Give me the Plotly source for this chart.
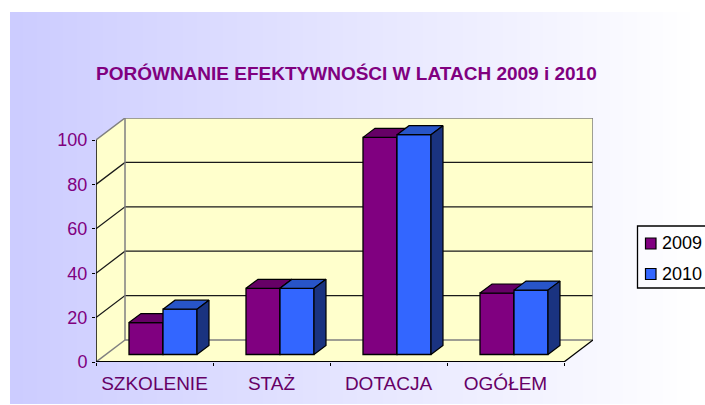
import plotly.graph_objects as go

categories = ["SZKOLENIE", "STAŻ", "DOTACJA", "OGÓŁEM"]
series_names = ["2009", "2010"]
values_2009 = [14.4, 29.8, 97.8, 27.7]
values_2010 = [20.4, 29.8, 99.0, 29.0]
y_ticks = [0, 20, 40, 60, 80, 100]

W, H = 705, 405
PX_X = 117.0      # pixels per category
PX_Y = 2.22       # pixels per value unit
DX, DY = 29 / PX_X, 22 / PX_Y          # wall depth in data units
BDX, BDY = 12 / PX_X, 9 / PX_Y         # bar depth in data units
BASE = 7.5 / PX_Y                      # bars stand inside the floor
BAR_W = 34 / PX_X
SHIFT = 8.5 / PX_X
XR = [0, 4 + DX]
YR = [0, 100 + DY]
L, R, B, T = 96, 593, 362, 118
PURPLE, BLUE = "#800080", "#3366ff"
TOP = {"2009": "#660066", "2010": "#2855c8"}
SIDE = {"2009": "#4d004d", "2010": "#1a3380"}
FRONT = {"2009": PURPLE, "2010": BLUE}
VALUES = {"2009": values_2009, "2010": values_2010}


def poly(x, y, fill, line="rgba(0,0,0,0)", lw=0, xa="x", ya="y"):
    return go.Scatter(x=x, y=y, mode="lines", fill="toself", fillcolor=fill,
                      line=dict(color=line, width=lw), xaxis=xa, yaxis=ya,
                      hoverinfo="skip", showlegend=False, cliponaxis=False)


def seg(x, y, color, lw):
    return go.Scatter(x=x, y=y, mode="lines", line=dict(color=color, width=lw),
                      hoverinfo="skip", showlegend=False, cliponaxis=False)


fig = go.Figure()
WALL = "#ffffcc"
GREY = "#808080"
fig.add_trace(poly([DX, 4 + DX, 4 + DX, DX, DX], [DY, DY, 100 + DY, 100 + DY, DY], WALL))
fig.add_trace(poly([0, DX, DX, 0, 0], [0, DY, 100 + DY, 100, 0], WALL))
fig.add_trace(poly([0, 4, 4 + DX, DX, 0], [0, 0, DY, DY, 0], WALL))
for v in y_ticks[1:-1]:
    fig.add_trace(seg([0, DX, 4 + DX], [v, v + DY, v + DY], "#1a1a1a", 1.3))
fig.add_trace(seg([0, DX, 4 + DX, 4 + DX], [100, 100 + DY, 100 + DY, DY], GREY, 1.5))
fig.add_trace(seg([DX, DX, 4 + DX], [100 + DY, DY, DY], GREY, 1.5))
fig.add_trace(seg([0, DX], [0, DY], GREY, 1.5))
fig.add_trace(seg([4, 4 + DX], [0, DY], "#000000", 1.3))
fig.add_trace(seg([0, 4], [0, 0], "#000000", 2))
fig.add_trace(seg([0, 0], [0, 100], "#000000", 1.5))

for k, name in enumerate(series_names):
    xa, ya = ("x2", "y2") if k == 0 else ("x3", "y3")
    vals = VALUES[name]
    off = SHIFT - BAR_W + k * BAR_W
    fig.add_trace(go.Bar(x=[i + 0.5 for i in range(4)], y=vals, base=BASE, width=BAR_W,
                         offset=off, name=name, marker=dict(color=FRONT[name],
                         line=dict(color="#000000", width=1.3)), xaxis=xa, yaxis=ya,
                         showlegend=False, cliponaxis=False,
                         text=categories, hovertemplate="%{text}: %{y}<extra>" + name + "</extra>",
                         textposition="none"))
    for i, v in enumerate(vals):
        x0 = i + 0.5 + off
        x1 = x0 + BAR_W
        t = BASE + v
        fig.add_trace(poly([x0, x1, x1 + BDX, x0 + BDX, x0], [t, t, t + BDY, t + BDY, t],
                           TOP[name], "#000000", 1.2, xa, ya))
        fig.add_trace(poly([x1, x1 + BDX, x1 + BDX, x1, x1],
                           [BASE, BASE + BDY, t + BDY, t, BASE],
                           SIDE[name], "#000000", 1.2, xa, ya))

dom_x = [L / W, R / W]
dom_y = [(H - B) / H, (H - T) / H]
hidden = dict(visible=False, range=XR, domain=dom_x, fixedrange=True, automargin=False)
shapes = []
x_start, x_end = 10, 690
for s in range(51):
    px = x_start + (x_end - x_start) * s / 51
    c = 204 + s
    shapes.append(dict(type="rect", xref="paper", yref="paper", layer="below",
                       x0=round(px) / W, x1=1, y0=(H - 404) / H, y1=(H - 12) / H,
                       fillcolor=f"rgb({c},{c},255)", line_width=0))
shapes.append(dict(type="rect", xref="paper", yref="paper", layer="below",
                   x0=x_end / W, x1=1, y0=(H - 404) / H, y1=(H - 12) / H,
                   fillcolor="#ffffff", line_width=0))
# legend
shapes.append(dict(type="rect", xref="paper", yref="paper", x0=637.5 / W, x1=712 / W,
                   y0=(H - 288) / H, y1=(H - 226) / H, fillcolor="rgba(255,255,255,0)",
                   line=dict(color="#000000", width=1.3)))
annotations = [dict(text="<b>PORÓWNANIE EFEKTYWNOŚCI W LATACH 2009 i 2010</b>", xref="paper", yref="paper",
                    x=346.5 / W, y=(H - 73.5) / H, showarrow=False, yanchor="middle",
                    font=dict(family="Liberation Sans", size=19, color=PURPLE))]
for k, (name, yc) in enumerate(zip(series_names, [243.5, 274])):
    shapes.append(dict(type="rect", xref="paper", yref="paper", x0=645.5 / W, x1=656 / W,
                       y0=(H - yc - 5.5) / H, y1=(H - yc + 5.5) / H, fillcolor=FRONT[name],
                       line=dict(color="#000000", width=1.2)))
    annotations.append(dict(text=name, xref="paper", yref="paper", x=661 / W, y=(H - yc) / H,
                            xanchor="left", yanchor="middle", showarrow=False, borderpad=0,
                            font=dict(family="Liberation Sans", size=18, color="#000000")))

fig.update_layout(
    width=W, height=H, autosize=False, margin=dict(l=0, r=0, t=0, b=0),
    paper_bgcolor="#ffffff", plot_bgcolor="rgba(0,0,0,0)", showlegend=False,
    barmode="overlay", shapes=shapes, annotations=annotations,
    font=dict(family="Liberation Sans"),
    xaxis=dict(range=XR, domain=dom_x, tickmode="array", tickvals=[0, 1, 2, 3, 4],
               ticktext=["", "", "", "", ""], ticks="outside", ticklen=3, tickwidth=1.3,
               tickcolor="#000000", showgrid=False, zeroline=False, showline=False, fixedrange=True,
               automargin=False),
    yaxis=dict(range=YR, domain=dom_y, tickmode="array", tickvals=y_ticks, ticks="outside",
               ticklen=3, tickwidth=1.3, tickcolor="#000000", showgrid=False, zeroline=False,
               showline=False, fixedrange=True, ticklabelstandoff=1, automargin=False,
               tickfont=dict(family="Liberation Sans", size=18, color=PURPLE)),
    xaxis2=dict(range=XR, domain=dom_x, overlaying="x", anchor="y2", tickmode="array",
                tickvals=[i + 0.5 for i in range(4)], ticktext=categories, ticks="",
                showgrid=False, zeroline=False, showline=False, fixedrange=True,
                ticklabelstandoff=8, tickangle=0, automargin=False,
                tickfont=dict(family="Liberation Sans", size=19, color="#660066")),
    yaxis2=dict(visible=False, range=YR, domain=dom_y, overlaying="y", anchor="x2", fixedrange=True,
                automargin=False),
    xaxis3=dict(hidden, overlaying="x", anchor="y3"),
    yaxis3=dict(visible=False, range=YR, domain=dom_y, overlaying="y", anchor="x3", fixedrange=True,
                automargin=False),
)
fig.write_html("out.html", config=dict(displayModeBar=False),
               post_script="document.body.style.margin='0';document.body.style.overflow='hidden';")
